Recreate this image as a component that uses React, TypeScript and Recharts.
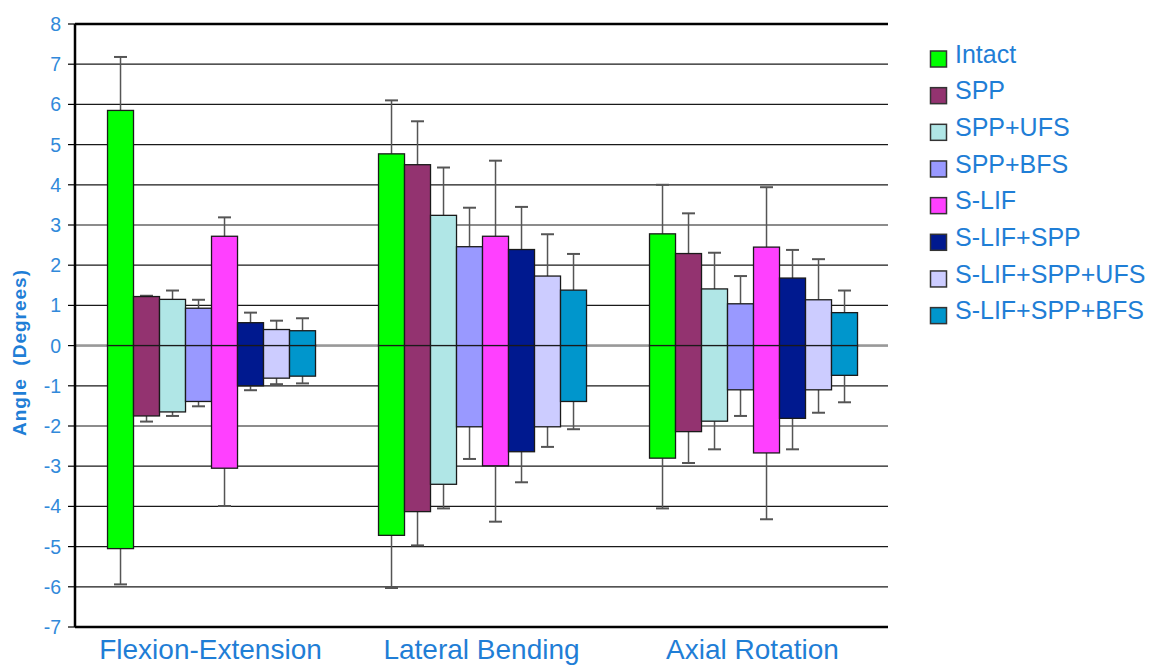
import React from 'react';
import { BarChart, Bar, XAxis, YAxis, CartesianGrid, ReferenceLine } from 'recharts';

const categories = ['Flexion-Extension', 'Lateral Bending', 'Axial Rotation'];
const yTicks = [-7, -6, -5, -4, -3, -2, -1, 0, 1, 2, 3, 4, 5, 6, 7, 8];

const seriesNames = ['Intact', 'SPP', 'SPP+UFS', 'SPP+BFS', 'S-LIF', 'S-LIF+SPP', 'S-LIF+SPP+UFS', 'S-LIF+SPP+BFS'];
const seriesColors = ['#00ff00', '#933370', '#b0e6e6', '#9999ff', '#ff40ff', '#00198f', '#ccccff', '#0096cc'];

// mean upper angle (positive direction) per category
const upperMean = [
  [5.85, 4.77, 2.78],
  [1.22, 4.5, 2.29],
  [1.15, 3.24, 1.41],
  [0.93, 2.46, 1.04],
  [2.72, 2.72, 2.45],
  [0.57, 2.39, 1.68],
  [0.4, 1.73, 1.14],
  [0.37, 1.38, 0.82],
];
// standard deviation of upper angle
const upperSD = [
  [1.33, 1.33, 1.22],
  [0.02, 1.08, 1.0],
  [0.22, 1.19, 0.9],
  [0.21, 0.97, 0.69],
  [0.47, 1.88, 1.49],
  [0.25, 1.06, 0.7],
  [0.22, 1.04, 1.01],
  [0.31, 0.9, 0.55],
];
// mean lower angle (negative direction)
const lowerMean = [
  [-5.05, -4.72, -2.8],
  [-1.75, -4.13, -2.14],
  [-1.65, -3.45, -1.88],
  [-1.39, -2.02, -1.1],
  [-3.05, -2.99, -2.67],
  [-1.0, -2.64, -1.81],
  [-0.81, -2.02, -1.1],
  [-0.76, -1.39, -0.74],
];
// standard deviation of lower angle
const lowerSD = [
  [0.89, 1.31, 1.25],
  [0.14, 0.84, 0.78],
  [0.1, 0.6, 0.7],
  [0.12, 0.8, 0.65],
  [0.94, 1.39, 1.65],
  [0.11, 0.76, 0.77],
  [0.15, 0.5, 0.57],
  [0.18, 0.69, 0.67],
];

const data = categories.map((cat, ci) => {
  const row: any = { cat };
  seriesNames.forEach((_, si) => {
    row[`hi${si}`] = upperMean[si][ci];
    row[`lo${si}`] = lowerMean[si][ci];
    row[`hiErr${si}`] = upperSD[si][ci];
    row[`loErr${si}`] = lowerSD[si][ci];
  });
  return row;
});

const FONT = '"Liberation Sans", Arial, sans-serif';
const BLUE = '#1f7ed6';
const TICK_BLUE = '#3189da';

const makeShape = (si: number, dir: 'up' | 'down') => (props: any) => {
  const { x, y, width, height, payload } = props;
  const color = seriesColors[si];
  const top = Math.min(y, y + height);
  const h = Math.abs(height);
  const val = Math.abs(payload[dir === 'up' ? `hi${si}` : `lo${si}`]);
  const err = payload[dir === 'up' ? `hiErr${si}` : `loErr${si}`];
  const ppu = val > 0 ? h / val : 0;
  const cx = x + width / 2;
  const edge = dir === 'up' ? top : top + h;
  const end = dir === 'up' ? edge - err * ppu : edge + err * ppu;
  return (
    <g>
      <line x1={cx} x2={cx} y1={edge} y2={end} stroke="#555" strokeWidth={1.5} />
      <line x1={cx - 6.5} x2={cx + 6.5} y1={end} y2={end} stroke="#555" strokeWidth={2} />
      <rect x={x} y={top} width={width} height={h} fill={color} stroke="#1a1a1a" strokeWidth={1.3} />
    </g>
  );
};

export default function App() {
  return (
    <div style={{ position: 'relative', width: 1158, height: 661, fontFamily: FONT }}>
      <BarChart
        width={1158}
        height={661}
        data={data}
        margin={{ top: 16, right: 278, bottom: 0, left: 0 }}
        barCategoryGap="12%"
        barGap={0}
        stackOffset="sign"
      >
        <CartesianGrid vertical={false} stroke="#1a1a1a" strokeWidth={1.2} />
        <CartesianGrid vertical={false} horizontalValues={[0]} stroke="#999" strokeWidth={2.5} />
        <XAxis
          dataKey="cat"
          xAxisId={0}
          interval={0}
          tickLine={false}
          tickSize={0}
          tickMargin={12}
          height={42}
          axisLine={{ stroke: '#000', strokeWidth: 2.5 }}
          tick={{ fill: BLUE, fontSize: 28, fontFamily: FONT }}
        />
        <YAxis
          yAxisId={0}
          domain={[-7, 8]}
          ticks={yTicks}
          interval={0}
          width={67}
          tickSize={7}
          tickMargin={7}
          tickLine={{ stroke: '#000', strokeWidth: 1.2 }}
          axisLine={{ stroke: '#000', strokeWidth: 2.5 }}
          tick={{ fill: TICK_BLUE, fontSize: 19.5, fontFamily: FONT }}
        />
        <YAxis
          yAxisId="right"
          orientation="right"
          width={0}
          tick={false}
          tickLine={false}
          axisLine={{ stroke: '#666', strokeWidth: 2 }}
          domain={[-7, 8]}
        />
        <ReferenceLine y={8} stroke="#000" strokeWidth={2.5} />
        {seriesNames.map((name, si) => (
          <Bar
            key={`hi${si}`}
            dataKey={`hi${si}`}
            name={name}
            stackId={`s${si}`}
            fill={seriesColors[si]}
            isAnimationActive={false}
            shape={makeShape(si, 'up')}
          />
        ))}
        {seriesNames.map((name, si) => (
          <Bar
            key={`lo${si}`}
            dataKey={`lo${si}`}
            name={name}
            stackId={`s${si}`}
            fill={seriesColors[si]}
            isAnimationActive={false}
            shape={makeShape(si, 'down')}
          />
        ))}
      </BarChart>
      <svg
        width={1158}
        height={661}
        style={{ position: 'absolute', left: 0, top: 0, pointerEvents: 'none' }}
      >
        <text
          x={18}
          y={344.5}
          transform="rotate(-90, 18, 344.5)"
          textAnchor="middle"
          fill={BLUE}
          fontSize={19}
          fontWeight="bold"
          letterSpacing={1}
          fontFamily={FONT}
          style={{ whiteSpace: 'pre' }}
        >
          {'Angle  (Degrees)'}
        </text>
        {seriesNames.map((name, si) => (
          <g key={name}>
            <rect
              x={922.5}
              y={43 + si * 36.66}
              width={16}
              height={16}
              fill={seriesColors[si]}
              stroke="#333"
              strokeWidth={1.5}
            />
            <text x={947} y={54.7 + si * 36.66} fill={BLUE} fontSize={25} fontFamily={FONT}>
              {name}
            </text>
          </g>
        ))}
      </svg>
    </div>
  );
}
